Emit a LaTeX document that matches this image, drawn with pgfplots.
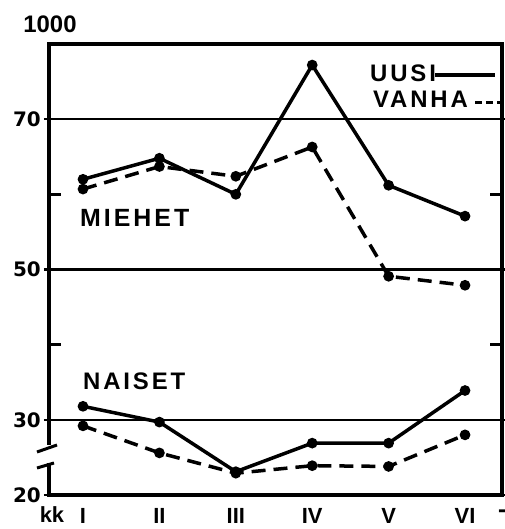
\documentclass[border=0pt]{standalone}
\usepackage{pgfplots}
\pgfplotsset{compat=1.18}
\usepackage{fontspec}
\setmainfont{Liberation Sans}
\newfontfamily\tickfont{DejaVu Sans}
\newfontfamily\wordfont[LetterSpace=12]{Liberation Sans}
\begin{document}
\begin{tikzpicture}[x=1bp,y=1bp]
\useasboundingbox (-49,-34) rectangle (456,495);
\begin{axis}[
  at={(0,0)}, anchor=south west,
  scale only axis, width=453bp, height=451bp,
  xmin=0.555, xmax=6.484, ymin=20, ymax=80,
  xtick={1,...,6}, xticklabels={I,II,III,IV,V,VI},
  xtick style={draw=none},
  ytick={20,30,50,70},
  extra y ticks={40,60}, extra y tick labels={},
  extra y tick style={tick align=inside, major tick length=12bp, grid=none},
  ymajorgrids, grid style={line width=2.5bp, black},
  axis line style={line width=3.5bp},
  tick align=outside, major tick length=5bp,
  ytick style={line width=2.5bp, black},
  yticklabel style={font=\tickfont\bfseries\fontsize{20}{20}\selectfont, inner sep=0pt, xshift=-3bp},
  xticklabel style={font=\bfseries\fontsize{22}{22}\selectfont, inner sep=0pt, yshift=-8bp},
  /pgf/number format/assume math mode=true,
  clip=false,
]
% MIEHET
\addplot[line width=3.5bp, mark=*, mark size=3.5bp] coordinates
  {(1,62.0) (2,64.8) (3,60.0) (4,77.2) (5,61.2) (6,57.1)};
\addplot[line width=3.5bp, dash pattern=on 14bp off 8bp, mark=*, mark size=3.5bp, mark options={solid}] coordinates
  {(1,60.7) (2,63.7) (3,62.4) (4,66.3) (5,49.1) (6,47.9)};
% NAISET
\addplot[line width=3.5bp, mark=*, mark size=3.5bp] coordinates
  {(1,31.8) (2,29.7) (3,23.1) (4,26.9) (5,26.9) (6,33.9)};
\addplot[line width=3.5bp, dash pattern=on 14bp off 8bp, mark=*, mark size=3.5bp, mark options={solid}] coordinates
  {(1,29.2) (2,25.6) (3,22.9) (4,23.9) (5,23.8) (6,28.0)};
\end{axis}
% axis break
\fill[white] (-4,32) rectangle (4,50);
\draw[line width=3bp] (-12,43) -- (8,50);
\draw[line width=3bp] (-12,27) -- (5,32);
% texts
\begin{scope}[every node/.style={font=\bfseries\fontsize{24}{24}\selectfont, inner sep=0pt}]
\node at (1,471) {1000};
\node[anchor=west, font=\wordfont\bfseries\fontsize{25}{25}\selectfont] at (31,277) {MIEHET};
\node[anchor=west, font=\wordfont\bfseries\fontsize{24}{24}\selectfont] at (34,114) {NAISET};
\node[anchor=west, font=\wordfont\bfseries\fontsize{24}{24}\selectfont] at (321,422) {UUSI};
\node[anchor=west, font=\wordfont\bfseries\fontsize{24}{24}\selectfont] at (324,396) {VANHA};
\node[font=\bfseries\fontsize{22}{22}\selectfont] at (3,-20) {kk};
\node at (453,-19) {-};
\end{scope}
\draw[line width=3.5bp] (386,420) -- (446,420);
\draw[line width=3bp, dash pattern=on 7bp off 4bp] (426,392) -- (453,392);
\end{tikzpicture}
\end{document}
